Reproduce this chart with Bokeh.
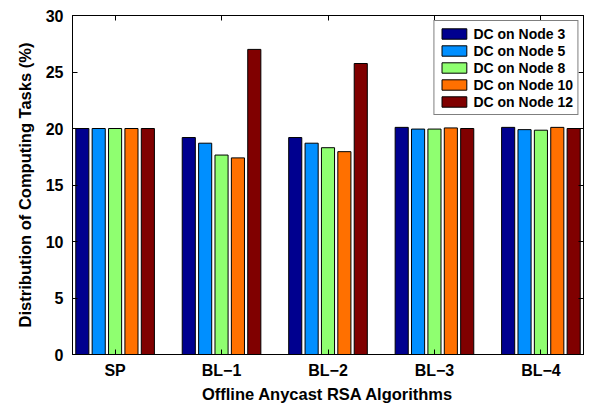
import numpy as np
from bokeh.plotting import figure
from bokeh.models import Range1d, LinearAxis, FixedTicker, Legend, LegendItem, CustomLabelingPolicy
from bokeh.embed import file_html
from bokeh.resources import INLINE

categories = ["SP", "BL\u22121", "BL\u22122", "BL\u22123", "BL\u22124"]
series_names = ["DC on Node 3", "DC on Node 5", "DC on Node 8", "DC on Node 10", "DC on Node 12"]
node3 = [20.0, 19.2, 19.2, 20.1, 20.1]
node5 = [20.0, 18.7, 18.7, 19.95, 19.9]
node8 = [20.0, 17.65, 18.3, 19.95, 19.85]
node10 = [20.0, 17.4, 17.95, 20.05, 20.1]
node12 = [20.0, 27.0, 25.75, 20.0, 20.0]
series = [node3, node5, node8, node10, node12]
colors = ["#00008F", "#008FFF", "#8FFF70", "#FF7000", "#800000"]
y_ticks = [0, 5, 10, 15, 20, 25, 30]

FONT = "Liberation Sans"

p = figure(width=604, height=409, output_backend="svg", toolbar_location=None,
           x_range=Range1d(0.6, 5.4), y_range=Range1d(0, 30),
           min_border_left=72, min_border_right=15, min_border_top=12, min_border_bottom=55)
p.xgrid.visible = False
p.ygrid.visible = False
p.outline_line_color = "black"
p.outline_line_width = 1
p.background_fill_color = "white"

xs = np.arange(1, len(categories) + 1)
n = len(series)
group_w = min(0.8, n / (n + 1.5))
slot = group_w / n
bar_w = slot * 0.8

items = []
for i, (vals, c, name) in enumerate(zip(series, colors, series_names)):
    off = (i - (n - 1) / 2) * slot
    r = p.vbar(x=xs + off, top=vals, bottom=0, width=bar_w, fill_color=c,
               line_color="black", line_width=1)
    items.append(LegendItem(label=name, renderers=[r]))

def style_axis(ax):
    ax.axis_line_color = "black"
    ax.axis_line_width = 1
    ax.major_tick_in = 5
    ax.major_tick_out = 0
    ax.minor_tick_in = 0
    ax.minor_tick_out = 0
    ax.major_tick_line_color = "black"
    ax.major_label_text_font = FONT
    ax.major_label_text_font_style = "bold"
    ax.major_label_text_font_size = "16px"
    ax.major_label_text_color = "black"
    ax.axis_label_text_font = FONT
    ax.axis_label_text_font_style = "bold"
    ax.axis_label_text_font_size = "16.5px"
    ax.axis_label_text_color = "black"

xa = p.xaxis[0]
xa.ticker = FixedTicker(ticks=list(xs))
xa.major_label_overrides = {int(x): c for x, c in zip(xs, categories)}
xa.axis_label = "Offline Anycast RSA Algorithms"
style_axis(xa)
xa.major_label_standoff = 7
xa.axis_label_standoff = 3

ya = p.yaxis[0]
ya.ticker = FixedTicker(ticks=y_ticks)
ya.axis_label = "Distribution of Computing Tasks (%)"
style_axis(ya)
ya.major_label_standoff = 9
ya.axis_label_standoff = 9

top_ax = LinearAxis(ticker=FixedTicker(ticks=list(xs)))
style_axis(top_ax)
top_ax.major_label_policy = CustomLabelingPolicy(code="return new Set()")
top_ax.major_label_standoff = 0
right_ax = LinearAxis(ticker=FixedTicker(ticks=y_ticks))
style_axis(right_ax)
right_ax.major_label_policy = CustomLabelingPolicy(code="return new Set()")
right_ax.major_label_standoff = 0
p.add_layout(top_ax, "above")
p.add_layout(right_ax, "right")

legend = Legend(items=items, location="top_right")
legend.margin = 5
legend.padding = 4
legend.spacing = 0
legend.label_height = 17
legend.glyph_width = 31
legend.glyph_height = 13
legend.label_standoff = 4
legend.label_text_font = FONT
legend.label_text_font_style = "bold"
legend.label_text_font_size = "14px"
legend.label_text_color = "black"
legend.border_line_color = "black"
legend.border_line_width = 1
legend.background_fill_alpha = 1
p.add_layout(legend)

open("out.html", "w").write(file_html(p, INLINE))
